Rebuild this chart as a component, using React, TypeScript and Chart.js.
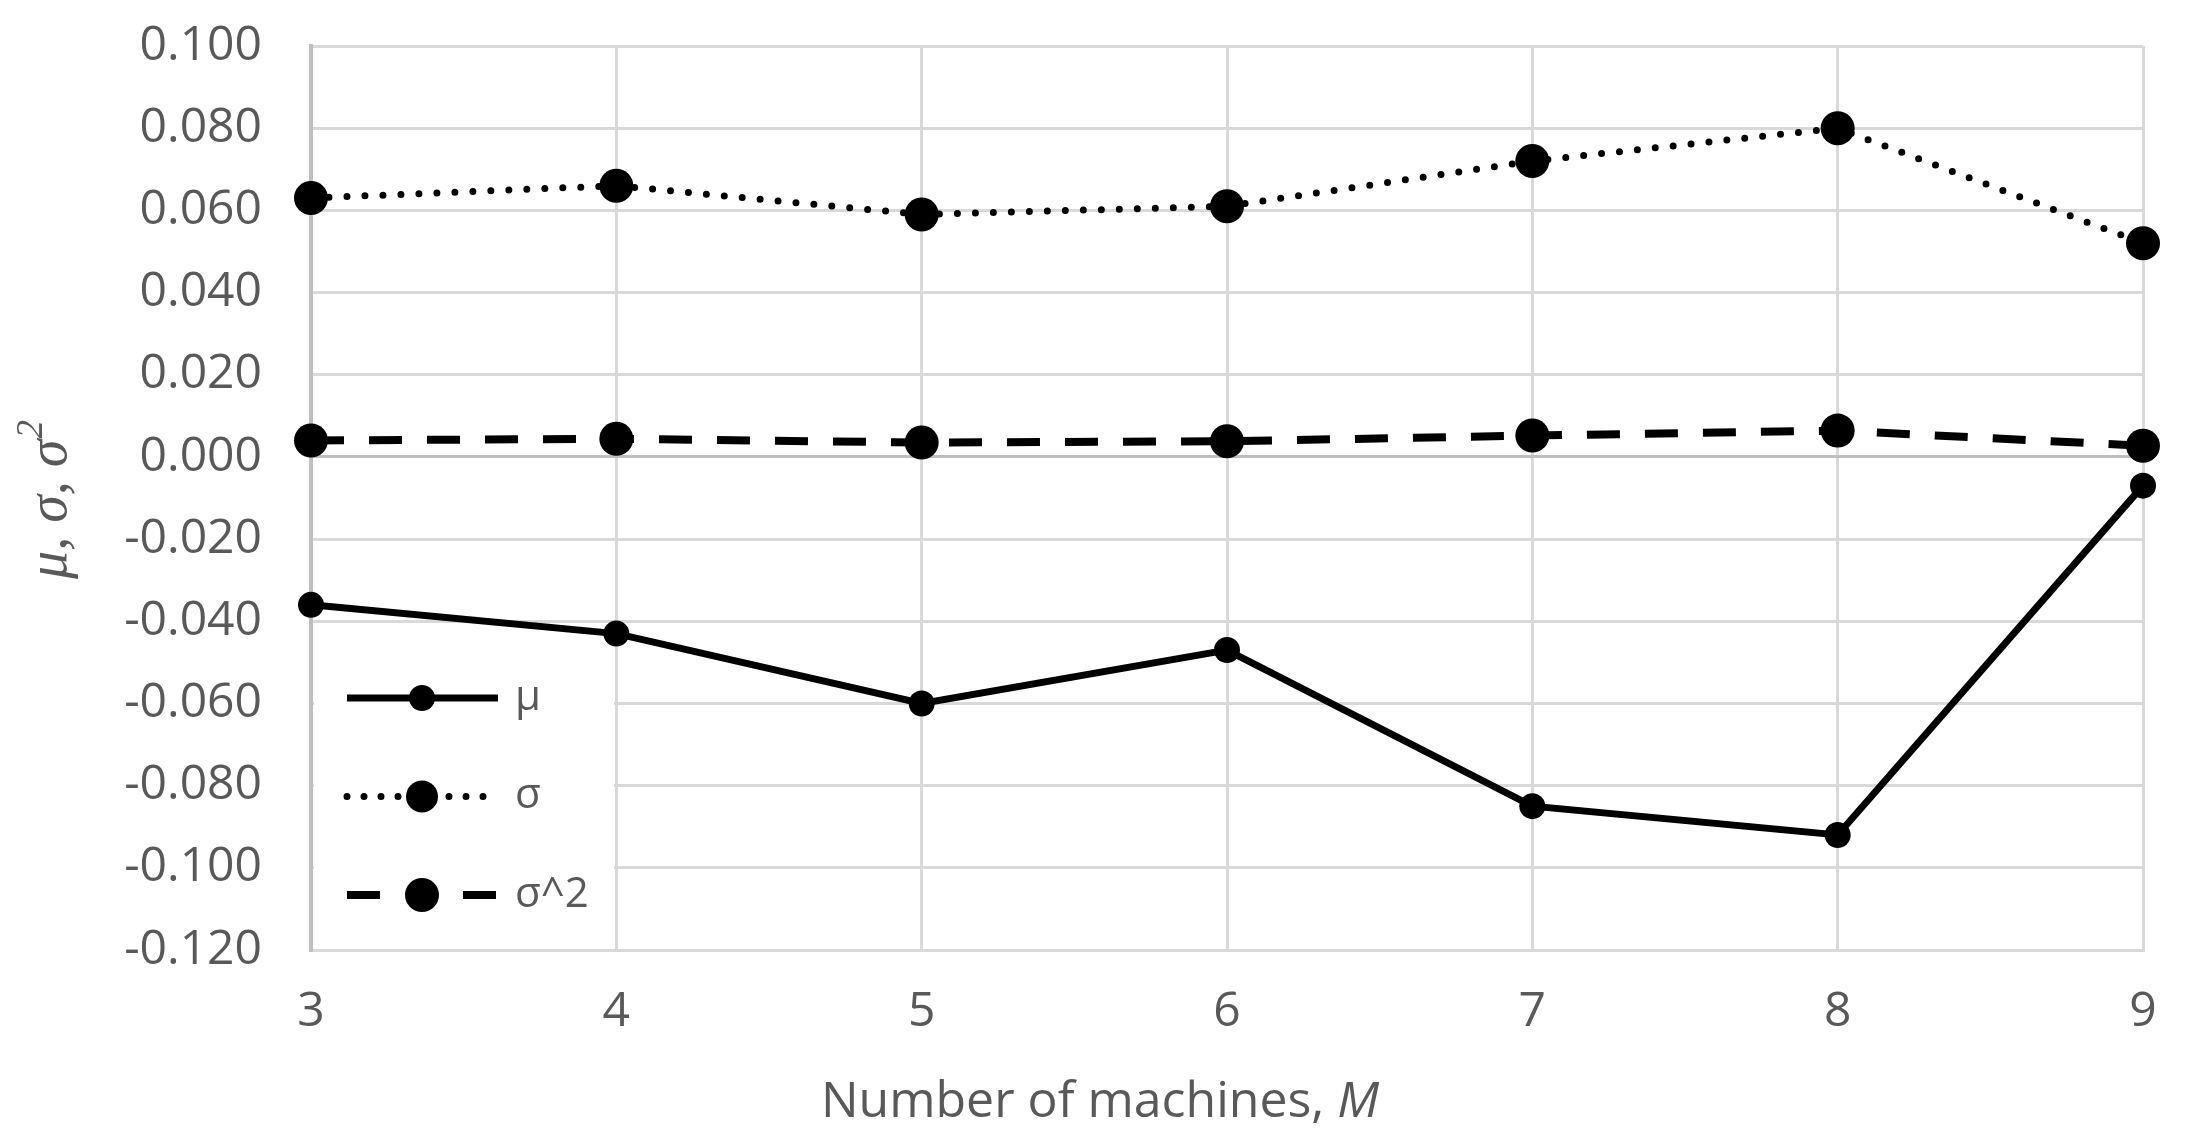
import React, { useEffect, useRef } from 'react';
import { Chart, registerables } from 'chart.js';

Chart.register(...registerables);

// number of machines M
const machines = ['3', '4', '5', '6', '7', '8', '9'];

// series
const muValues = [-0.036, -0.043, -0.060, -0.047, -0.085, -0.092, -0.007];
const sigmaValues = [0.063, 0.066, 0.059, 0.061, 0.072, 0.080, 0.052];
const sigmaSqValues = [0.0040, 0.0044, 0.0035, 0.0038, 0.0052, 0.0064, 0.0027];

// y axis
const yMin = -0.12;
const yMax = 0.1;
const yStep = 0.02;

const seriesLabels = ['μ', 'σ', 'σ^2'];

const GRAY_TEXT = '#595959';
const GRID = '#d9d9d9';
const AXIS = '#bfbfbf';

// legend look (dash pattern / marker size for each row)
const legendDash = [[], [0, 17], [33, 83]];
const legendRadius = [13, 16, 17];

const insideLegend = {
  id: 'insideLegend',
  beforeDatasetsDraw(chart: any) {
    const { ctx, chartArea } = chart;
    ctx.save();
    ctx.fillStyle = '#ffffff';
    ctx.fillRect(chartArea.left + 3, chartArea.bottom - 298, 300, 295);
    ctx.restore();
  },
  afterDraw(chart: any) {
    const { ctx, chartArea } = chart;
    chart.data.datasets.forEach((ds: any, i: number) => {
      const y = chartArea.bottom - 252 + i * 98.5;
      const x0 = chartArea.left + 36;
      const x1 = chartArea.left + 187;
      ctx.save();
      ctx.strokeStyle = '#000';
      ctx.lineWidth = ds.borderWidth;
      ctx.lineCap = ds.borderCapStyle || 'butt';
      ctx.setLineDash(legendDash[i]);
      ctx.beginPath();
      ctx.moveTo(x0, y);
      ctx.lineTo(x1, y);
      ctx.stroke();
      ctx.setLineDash([]);
      ctx.fillStyle = '#000';
      ctx.beginPath();
      ctx.arc(chartArea.left + 111, y, legendRadius[i], 0, Math.PI * 2);
      ctx.fill();
      ctx.fillStyle = GRAY_TEXT;
      ctx.font = '42px "Open Sans"';
      ctx.textBaseline = 'middle';
      ctx.textAlign = 'left';
      ctx.fillText(ds.label, chartArea.left + 204, y);
      ctx.restore();
    });
  },
};

const axisTitles = {
  id: 'axisTitles',
  afterDraw(chart: any) {
    const { ctx } = chart;
    ctx.save();
    ctx.fillStyle = GRAY_TEXT;
    ctx.textBaseline = 'middle';
    ctx.textAlign = 'left';

    // x title: "Number of machines, M" with italic M
    const part1 = 'Number of machines, ';
    const part2 = 'M';
    const fReg = '50px "Open Sans"';
    const fIt = 'italic 50px "Open Sans"';
    ctx.font = fReg;
    const w1 = ctx.measureText(part1).width;
    ctx.font = fIt;
    const w2 = ctx.measureText(part2).width;
    let x = chart.width / 2 - (w1 + w2) / 2;
    const yx = 1103;
    ctx.font = fReg;
    ctx.fillText(part1, x, yx);
    ctx.font = fIt;
    ctx.fillText(part2, x + w1, yx);

    // y title: "μ, σ, σ²" italic, rotated
    ctx.translate(51, 500);
    ctx.rotate(-Math.PI / 2);
    const mainText = 'μ, σ, σ';
    const fMain = 'italic 56px "Liberation Serif"';
    const fSup = 'italic 37px "Liberation Serif"';
    ctx.font = fMain;
    const m1 = ctx.measureText(mainText).width;
    ctx.font = fSup;
    const m2 = ctx.measureText('2').width;
    x = -(m1 + m2) / 2;
    ctx.font = fMain;
    ctx.fillText(mainText, x, 0);
    ctx.font = fSup;
    ctx.fillText('2', x + m1 + 1, -19);
    ctx.restore();
  },
};

export default function App() {
  const canvasRef = useRef<HTMLCanvasElement | null>(null);

  useEffect(() => {
    document.body.style.margin = '0';
    if (!canvasRef.current) return;

    const chart = new Chart(canvasRef.current, {
      type: 'line',
      data: {
        labels: machines,
        datasets: [
          {
            label: seriesLabels[0],
            data: muValues,
            borderColor: '#000',
            backgroundColor: '#000',
            borderWidth: 7,
            pointRadius: 13,
            pointBorderWidth: 0,
            pointBackgroundColor: '#000',
            fill: false,
            clip: false,
          },
          {
            label: seriesLabels[1],
            data: sigmaValues,
            borderColor: '#000',
            backgroundColor: '#000',
            borderWidth: 7,
            borderDash: [0, 18],
            borderCapStyle: 'round',
            pointRadius: 17,
            pointBorderWidth: 0,
            pointBackgroundColor: '#000',
            fill: false,
            clip: false,
          },
          {
            label: seriesLabels[2],
            data: sigmaSqValues,
            borderColor: '#000',
            backgroundColor: '#000',
            borderWidth: 8,
            borderDash: [33, 25],
            pointRadius: 17,
            pointBorderWidth: 0,
            pointBackgroundColor: '#000',
            fill: false,
            clip: false,
          },
        ],
      } as any,
      options: {
        animation: false,
        responsive: true,
        maintainAspectRatio: false,
        layout: { padding: { left: 0, top: 46, right: 57, bottom: 0 } },
        plugins: {
          legend: { display: false },
          tooltip: { enabled: false },
          title: { display: false },
        },
        scales: {
          x: {
            type: 'category',
            offset: false,
            grid: { color: GRID, lineWidth: 3, drawTicks: false },
            border: { color: GRID, width: 3 },
            ticks: {
              color: GRAY_TEXT,
              font: { family: 'Open Sans', size: 48 },
              padding: 34,
              maxRotation: 0,
            },
            afterFit: (scale: any) => {
              scale.height = 194;
              scale.paddingLeft = 0;
              scale.paddingRight = 0;
            },
          },
          y: {
            min: yMin,
            max: yMax,
            grid: {
              color: (c: any) => (Math.abs(c.tick?.value ?? 1) < 1e-9 ? AXIS : GRID),
              lineWidth: 3,
              drawTicks: false,
            },
            border: { color: AXIS, width: 4 },
            ticks: {
              stepSize: yStep,
              color: GRAY_TEXT,
              font: { family: 'Open Sans', size: 48 },
              padding: 49,
              callback: (v: any) => Number(v).toFixed(3),
            },
            afterFit: (scale: any) => {
              scale.width = 311;
              scale.paddingTop = 0;
              scale.paddingBottom = 0;
            },
          },
        },
      } as any,
      plugins: [insideLegend, axisTitles],
    });

    return () => {
      chart.destroy();
    };
  }, []);

  return (
    <div style={{ position: 'relative', width: 2200, height: 1144 }}>
      <canvas ref={canvasRef} />
    </div>
  );
}
